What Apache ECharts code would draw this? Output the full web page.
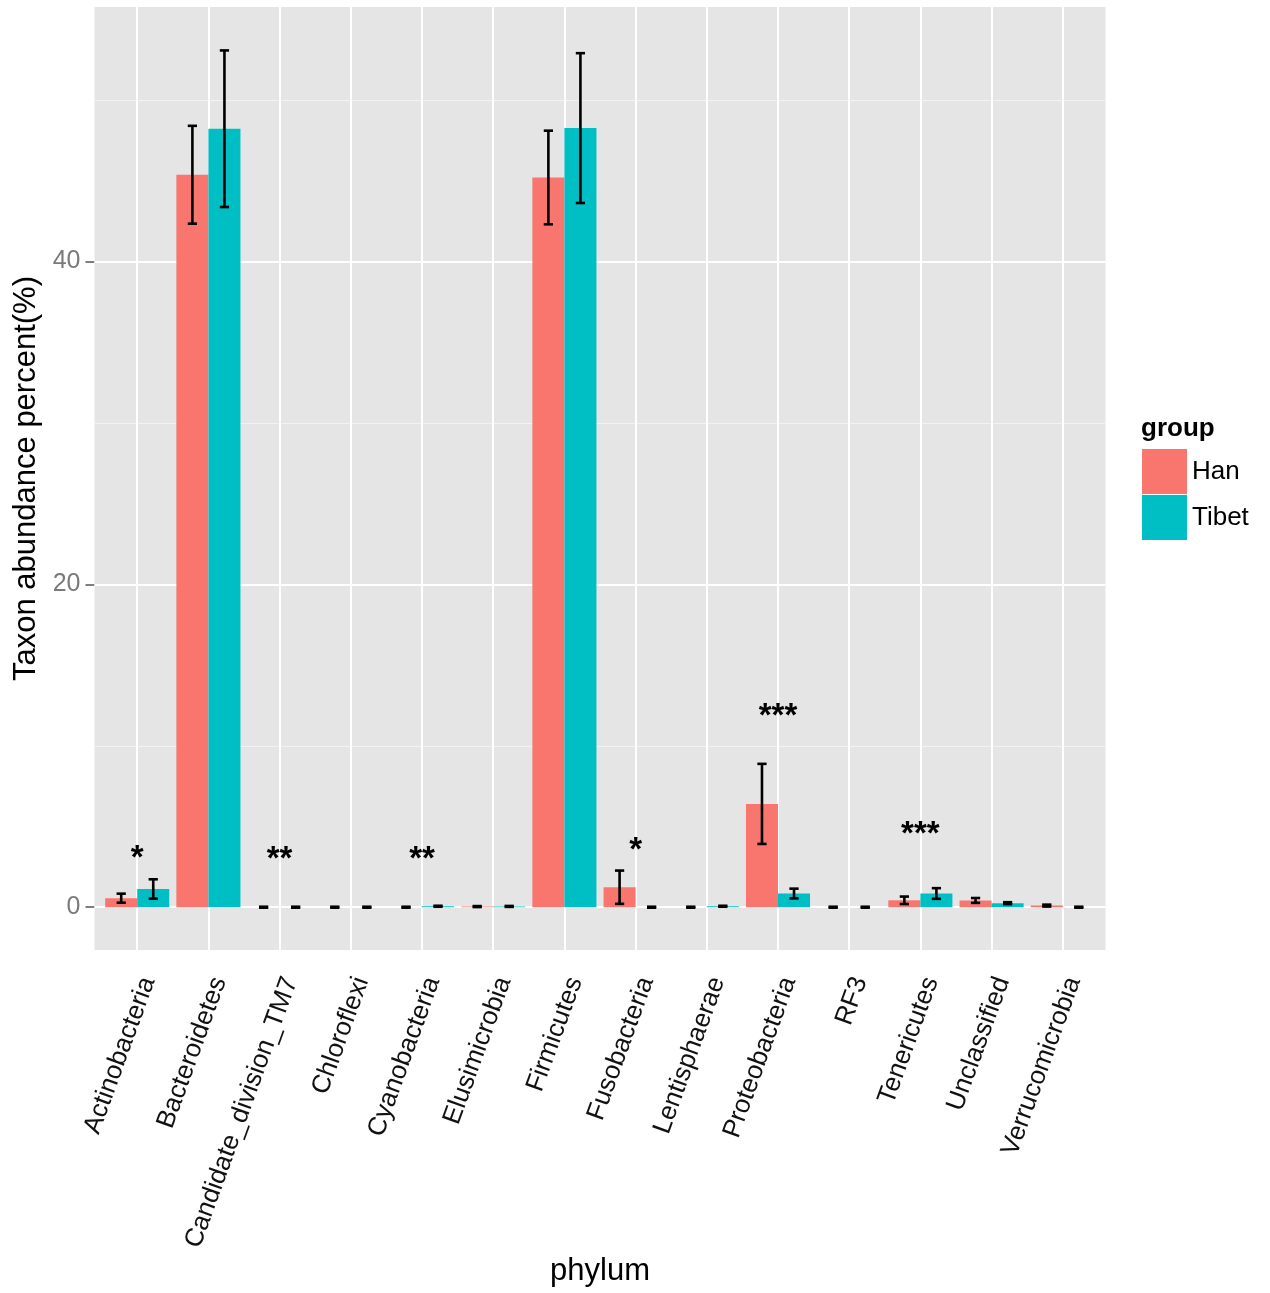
<!DOCTYPE html>
<html>
<head>
<meta charset="utf-8">
<script src="https://cdn.jsdelivr.net/npm/echarts@6/dist/echarts.min.js"></script>
<style>
  html, body { margin: 0; padding: 0; background: #ffffff; }
  #chart { width: 1270px; height: 1293px; }
</style>
</head>
<body>
<div id="chart"></div>
<script>
// Mean relative abundance (%) per phylum with standard error, by group
const categories = ['Actinobacteria', 'Bacteroidetes', 'Candidate_division_TM7', 'Chloroflexi',
  'Cyanobacteria', 'Elusimicrobia', 'Firmicutes', 'Fusobacteria', 'Lentisphaerae',
  'Proteobacteria', 'RF3', 'Tenericutes', 'Unclassified', 'Verrucomicrobia'];
const hanMean  = [0.56, 45.37, 0, 0, 0, 0.04, 45.2, 1.24, 0, 6.4, 0, 0.43, 0.42, 0.1];
const hanSE    = [0.28, 3.03, 0.03, 0.03, 0.03, 0.03, 2.9, 1.03, 0.03, 2.48, 0.03, 0.23, 0.15, 0.06];
const tibetMean = [1.13, 48.22, 0, 0, 0.06, 0.05, 48.26, 0, 0.06, 0.85, 0, 0.85, 0.25, 0];
const tibetSE   = [0.6, 4.85, 0.03, 0.03, 0.03, 0.03, 4.64, 0.03, 0.03, 0.3, 0.03, 0.33, 0.06, 0.03];

// Significance marks
const starCategory = ['Actinobacteria', 'Candidate_division_TM7', 'Cyanobacteria', 'Fusobacteria', 'Proteobacteria', 'Tenericutes'];
const starText = ['*', '**', '**', '*', '***', '***'];
const starY = [3.5, 3.45, 3.45, 4.0, 12.3, 4.95];

// Y axis scale
const yMin = -2.65, yMax = 55.76;
const yMajor = [0, 20, 40];
const yMinor = [10, 30, 50];

const FONT = '"Liberation Sans", Arial, Helvetica, sans-serif';
const PANEL_LEFT = 94.5, PANEL_TOP = 7, PANEL_W = 1011, PANEL_H = 943;
const PAD = 0.6;                       // discrete-axis padding, in category units
const step = PANEL_W / (categories.length - 1 + 2 * PAD);
const innerLeft = PANEL_LEFT + (PAD - 0.5) * step;
const innerW = categories.length * step;
const LABEL_SHIFT = 11;                // rotated labels hang slightly right of their ticks

function errorBars(side) {
  return function (params, api) {
    const i = api.value(0);
    const lo = api.coord([i, api.value(1)]);
    const hi = api.coord([i, api.value(2)]);
    const band = api.size([1, 0])[0];
    const x = lo[0] + side * band * 0.225;
    const cap = band * 0.065;
    const style = { stroke: '#000000', lineWidth: 2.6, fill: null };
    return {
      type: 'group',
      children: [
        { type: 'line', shape: { x1: x, y1: lo[1], x2: x, y2: hi[1] }, style: style },
        { type: 'line', shape: { x1: x - cap, y1: lo[1], x2: x + cap, y2: lo[1] }, style: style },
        { type: 'line', shape: { x1: x - cap, y1: hi[1], x2: x + cap, y2: hi[1] }, style: style }
      ]
    };
  };
}

const chart = echarts.init(document.getElementById('chart'), null, { renderer: 'canvas' });

const gridLine = (v, key, color, width) => ({ [key]: v, lineStyle: { color: color, width: width, type: 'solid' } });

chart.setOption({
  animation: false,
  backgroundColor: '#ffffff',
  textStyle: { fontFamily: FONT },
  title: {
    text: 'group', left: 1141, top: 416, padding: 0,
    textStyle: { fontFamily: FONT, fontSize: 26, fontWeight: 'bold', color: '#000000' }
  },
  legend: {
    data: ['Han', 'Tibet'],
    orient: 'vertical', left: 1142, top: 449, padding: 0,
    itemWidth: 45, itemHeight: 45, itemGap: 1, icon: 'rect',
    textStyle: { fontFamily: FONT, fontSize: 26, color: '#000000' }
  },
  grid: [
    { left: PANEL_LEFT, top: PANEL_TOP, width: PANEL_W, height: PANEL_H,
      show: true, backgroundColor: '#E5E5E5', borderWidth: 0 },
    { left: innerLeft, top: PANEL_TOP, width: innerW, height: PANEL_H, show: false },
    { left: innerLeft + LABEL_SHIFT, top: PANEL_TOP, width: innerW, height: PANEL_H, show: false }
  ],
  xAxis: [
    { type: 'value', gridIndex: 0, min: 1 - PAD, max: categories.length + PAD, show: false },
    {
      type: 'category', gridIndex: 1, data: categories,
      axisLine: { show: false },
      axisTick: { show: true, alignWithLabel: true, length: 8, lineStyle: { color: '#7F7F7F', width: 2 } },
      axisLabel: { show: false },
      splitLine: { show: false },
      name: 'phylum', nameLocation: 'middle', nameGap: 306,
      nameTextStyle: { fontSize: 31, color: '#000000', fontFamily: FONT }
    },
    {
      // category names
      type: 'category', gridIndex: 2, data: categories,
      axisLine: { show: false }, axisTick: { show: false }, splitLine: { show: false },
      axisLabel: { rotate: 70, fontSize: 26, color: '#111111', margin: 28, interval: 0, fontFamily: FONT }
    }
  ],
  yAxis: [
    {
      type: 'value', gridIndex: 0, min: yMin, max: yMax,
      axisLine: { show: false },
      axisTick: { show: true, customValues: yMajor, length: 9, lineStyle: { color: '#7F7F7F', width: 2 } },
      axisLabel: { customValues: yMajor, color: '#7A7A7A', fontSize: 25, margin: 14, fontFamily: FONT },
      splitLine: { show: false },
      name: 'Taxon abundance percent(%)', nameLocation: 'middle', nameGap: 52, nameRotate: 90,
      nameTextStyle: { fontSize: 31, color: '#000000', fontFamily: FONT }
    },
    { type: 'value', gridIndex: 1, min: yMin, max: yMax, show: false },
    { type: 'value', gridIndex: 2, min: yMin, max: yMax, show: false }
  ],
  series: [
    {
      // panel grid lines
      type: 'line', xAxisIndex: 0, yAxisIndex: 0, data: [], z: 1, silent: true,
      markLine: {
        silent: true, symbol: 'none', animation: false, z: 1,
        label: { show: false },
        data: [
          ...yMinor.map(v => gridLine(v, 'yAxis', '#F2F2F2', 1)),
          ...yMajor.map(v => gridLine(v, 'yAxis', '#FFFFFF', 2)),
          ...categories.map((c, i) => gridLine(i + 1, 'xAxis', '#FFFFFF', 2))
        ]
      }
    },
    {
      name: 'Han', type: 'bar', xAxisIndex: 1, yAxisIndex: 1, data: hanMean,
      itemStyle: { color: '#F8766D' }, barGap: '0%', barCategoryGap: '10%', z: 3
    },
    {
      name: 'Tibet', type: 'bar', xAxisIndex: 1, yAxisIndex: 1, data: tibetMean,
      itemStyle: { color: '#00BFC4' }, barGap: '0%', barCategoryGap: '10%', z: 3
    },
    {
      type: 'custom', xAxisIndex: 1, yAxisIndex: 1, z: 5, silent: true,
      renderItem: errorBars(-1),
      encode: { x: 0, y: [1, 2] },
      data: hanMean.map((m, i) => [i, m - hanSE[i], m + hanSE[i]])
    },
    {
      type: 'custom', xAxisIndex: 1, yAxisIndex: 1, z: 5, silent: true,
      renderItem: errorBars(1),
      encode: { x: 0, y: [1, 2] },
      data: tibetMean.map((m, i) => [i, m - tibetSE[i], m + tibetSE[i]])
    },
    {
      type: 'custom', xAxisIndex: 1, yAxisIndex: 1, z: 6, silent: true,
      encode: { x: 0, y: 1 },
      data: starCategory.map((c, k) => [categories.indexOf(c), starY[k]]),
      renderItem: function (params, api) {
        const p = api.coord([api.value(0), api.value(1)]);
        return {
          type: 'text', x: p[0], y: p[1] + 8,
          style: {
            text: starText[params.dataIndex], fill: '#000000',
            font: 'bold 33px ' + FONT, align: 'center', verticalAlign: 'middle'
          }
        };
      }
    }
  ]
});
</script>
</body>
</html>
